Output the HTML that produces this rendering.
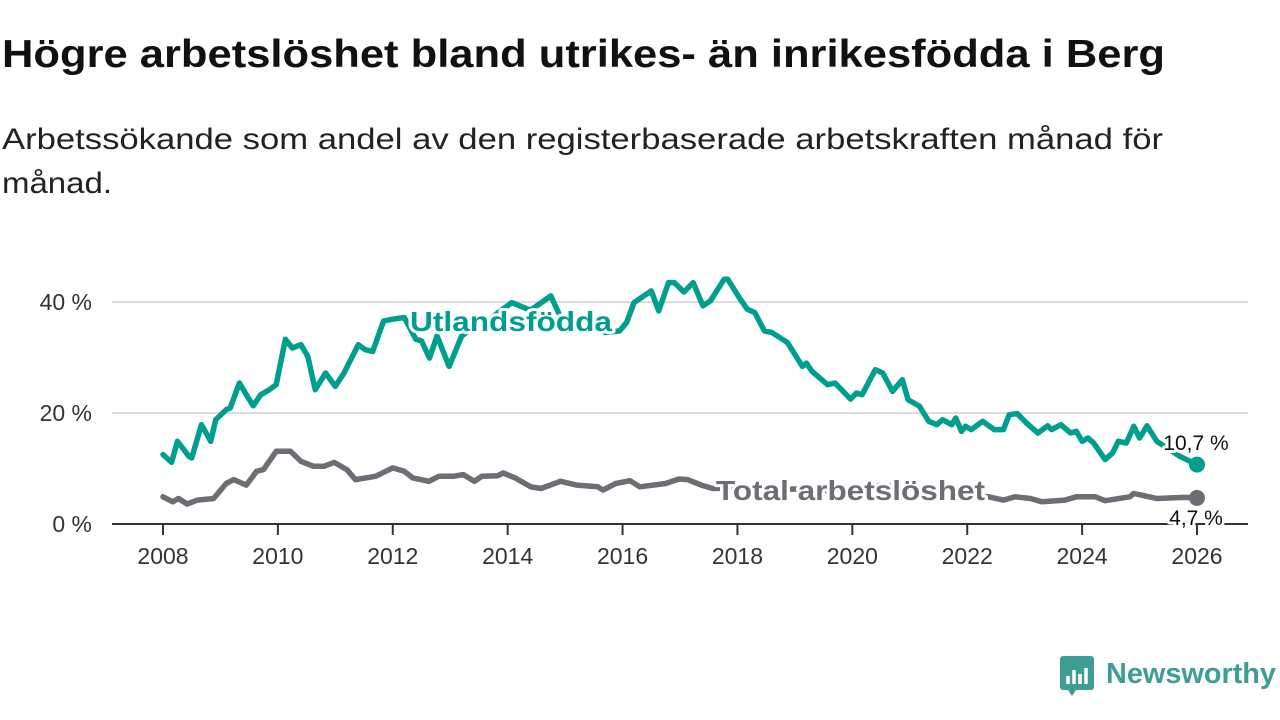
<!DOCTYPE html>
<html><head><meta charset="utf-8">
<style>
body{margin:0;width:1280px;height:720px;background:#fff;overflow:hidden;font-family:"Liberation Sans",sans-serif;}
svg{display:block}
.halo{paint-order:stroke;stroke:#fff;stroke-width:6px;stroke-linejoin:round}
</style></head>
<body>
<svg id="chart" width="1280" height="720" viewBox="0 0 1280 720">
<text x="2" y="67" font-size="39" font-weight="bold" fill="#111" textLength="1163" lengthAdjust="spacingAndGlyphs">Högre arbetslöshet bland utrikes- än inrikesfödda i Berg</text>
<text x="2" y="149" font-size="30" fill="#222" textLength="1161" lengthAdjust="spacingAndGlyphs">Arbetssökande som andel av den registerbaserade arbetskraften månad för</text>
<text x="2" y="193" font-size="30" fill="#222" textLength="110" lengthAdjust="spacingAndGlyphs">månad.</text>
<g id="grid"></g>
<g id="axes"></g>
<g id="series"></g>
<g id="labels"></g>
<g>
<rect x="1060" y="656" width="34" height="34" rx="3" fill="#3d9e94"/>
<path d="M1068 684 v-8 M1074 684 v-14 M1080 684 v-10 M1086 684 v-16" stroke="#fff" stroke-width="3.5"/>
<path d="M1068 690 l4 6 l4 -6 z" fill="#3d9e94"/>
<text x="1106" y="683" font-size="29" font-weight="bold" fill="#3d9e94" textLength="170" lengthAdjust="spacingAndGlyphs">Newsworthy</text>
</g>
</svg>
<script>
const xTicks=[2008,2010,2012,2014,2016,2018,2020,2022,2024,2026];
const yTicks=[0,20,40];
const utlandYears=[2008.0,2008.15,2008.25,2008.45,2008.5,2008.67,2008.83,2008.92,2009.1,2009.17,2009.33,2009.45,2009.57,2009.7,2009.85,2009.97,2010.13,2010.25,2010.4,2010.52,2010.65,2010.83,2011.0,2011.15,2011.4,2011.52,2011.65,2011.84,2012.0,2012.2,2012.4,2012.5,2012.64,2012.77,2012.98,2013.2,2013.45,2013.7,2014.07,2014.4,2014.75,2015.0,2015.3,2015.7,2015.95,2016.07,2016.2,2016.5,2016.63,2016.8,2016.9,2017.07,2017.23,2017.4,2017.53,2017.77,2017.83,2018.03,2018.17,2018.3,2018.47,2018.6,2018.87,2019.13,2019.2,2019.3,2019.57,2019.7,2019.97,2020.07,2020.17,2020.4,2020.53,2020.7,2020.87,2020.97,2021.17,2021.33,2021.47,2021.57,2021.73,2021.8,2021.9,2021.97,2022.07,2022.27,2022.47,2022.63,2022.73,2022.87,2023.03,2023.23,2023.4,2023.47,2023.63,2023.8,2023.9,2024.0,2024.1,2024.2,2024.4,2024.53,2024.63,2024.77,2024.9,2025.0,2025.13,2025.3,2025.7,2026.0];
const utlandValues=[12.5,11.1,14.9,12.2,11.9,17.9,14.9,18.8,20.6,20.9,25.4,23.3,21.3,23.3,24.2,25.1,33.3,31.7,32.3,30.2,24.2,27.2,24.8,27.2,32.3,31.4,31.1,36.6,36.9,37.2,33.3,33.0,29.9,33.9,28.4,33.9,35.7,37.0,39.9,38.5,41.1,35.5,36.5,34.5,34.8,36.3,39.9,42.0,38.4,43.5,43.5,41.8,43.5,39.3,40.2,44.1,44.1,40.8,38.7,38.1,34.8,34.5,32.7,28.4,29.0,27.5,25.1,25.4,22.5,23.6,23.3,27.8,27.2,23.9,26.0,22.4,21.2,18.5,17.9,18.8,17.9,19.1,16.7,17.6,17.0,18.5,17.0,17.0,19.7,19.9,18.2,16.4,17.7,17.0,17.9,16.4,16.7,14.9,15.5,14.6,11.6,12.8,14.9,14.6,17.6,15.5,17.7,14.9,12.2,10.7];
const totalYears=[2008.0,2008.17,2008.27,2008.42,2008.6,2008.88,2009.1,2009.23,2009.45,2009.63,2009.75,2009.97,2010.22,2010.4,2010.62,2010.8,2010.98,2011.2,2011.35,2011.7,2012.0,2012.2,2012.35,2012.63,2012.8,2013.05,2013.23,2013.42,2013.55,2013.83,2013.92,2014.13,2014.4,2014.58,2014.92,2015.2,2015.57,2015.66,2015.88,2016.13,2016.3,2016.75,2016.98,2017.13,2017.37,2017.57,2018.0,2018.5,2019.0,2019.5,2020.0,2020.5,2021.0,2021.5,2022.0,2022.37,2022.63,2022.83,2023.1,2023.3,2023.7,2023.9,2024.23,2024.4,2024.83,2024.9,2025.3,2025.77,2026.0];
const totalValues=[4.9,4.0,4.6,3.6,4.3,4.6,7.3,8.0,7.0,9.5,9.8,13.1,13.1,11.3,10.4,10.4,11.1,9.8,8.0,8.6,10.1,9.5,8.3,7.7,8.6,8.6,8.9,7.7,8.6,8.7,9.2,8.3,6.7,6.4,7.7,7.0,6.7,6.1,7.3,7.8,6.7,7.3,8.1,8.0,7.0,6.4,6.5,6.2,6.3,6.0,6.2,7.0,6.5,5.5,5.2,4.9,4.3,4.9,4.6,4.0,4.3,4.9,4.9,4.2,4.9,5.5,4.6,4.8,4.7];
const X=y=>163+(y-2008)*(1197-163)/18;
const Y=v=>524-v*(524-302)/40;
const NS="http://www.w3.org/2000/svg";
function mk(tag,attrs,parent){const e=document.createElementNS(NS,tag);for(const k in attrs)e.setAttribute(k,attrs[k]);parent.appendChild(e);return e;}
const grid=document.getElementById('grid'),axes=document.getElementById('axes'),series=document.getElementById('series'),labels=document.getElementById('labels');
yTicks.forEach(v=>{
 if(v>0){const g=mk('line',{x1:112,x2:1248,y1:Y(v),y2:Y(v),stroke:'#dcdcdc','stroke-width':2},grid);
 
 }
 const t=mk('text',{x:92,y:Y(v)+8,'text-anchor':'end','font-size':23,fill:'#333'},axes);
 t.textContent=v+' %';
 
 
});
const ax=mk('line',{x1:112,x2:1248,y1:524,y2:524,stroke:'#333','stroke-width':2},axes);


xTicks.forEach(yr=>{
 const tk=mk('line',{x1:X(yr),x2:X(yr),y1:524,y2:535,stroke:'#333','stroke-width':2},axes);
 
 
 const t=mk('text',{x:X(yr),y:564,'text-anchor':'middle','font-size':23,fill:'#333'},axes);
 t.textContent=yr;
 
 
});
function line(ys,vs,color,name){
 const d=ys.map((y,i)=>(i?'L':'M')+X(y).toFixed(1)+' '+Y(vs[i]).toFixed(1)).join(' ');
 const p=mk('path',{d:d,fill:'none',stroke:color,'stroke-width':5.5,'stroke-linejoin':'round','stroke-linecap':'round'},series);
 
 
 const n=ys.length-1;
 const c=mk('circle',{cx:X(ys[n]),cy:Y(vs[n]),r:8,fill:color},series);
 
 
}
line(totalYears,totalValues,'#6e6d73','total-line');
line(utlandYears,utlandValues,'#009e8e','utlandsfodda-line');
function lab(x,y,txt,opts,name){
 const t=mk('text',Object.assign({x:x,y:y,class:'halo'},opts),labels);
 t.textContent=txt;
 
 
}
lab(410,331,'Utlandsfödda',{'font-size':28,'font-weight':'bold',fill:'#009e8e',textLength:202,lengthAdjust:'spacingAndGlyphs'},'utlandsfodda-label');
lab(716,500,'Total arbetslöshet',{'font-size':28,'font-weight':'bold',fill:'#6e6d73',textLength:269,lengthAdjust:'spacingAndGlyphs'},'total-label');
lab(1196,450,utlandValues[utlandValues.length-1].toFixed(1).replace('.',',')+' %',{'font-size':21,fill:'#111','text-anchor':'middle'},'utlandsfodda-value-label');
lab(1196,525,totalValues[totalValues.length-1].toFixed(1).replace('.',',')+' %',{'font-size':21,fill:'#111','text-anchor':'middle'},'total-value-label');
</script>
</body></html>
